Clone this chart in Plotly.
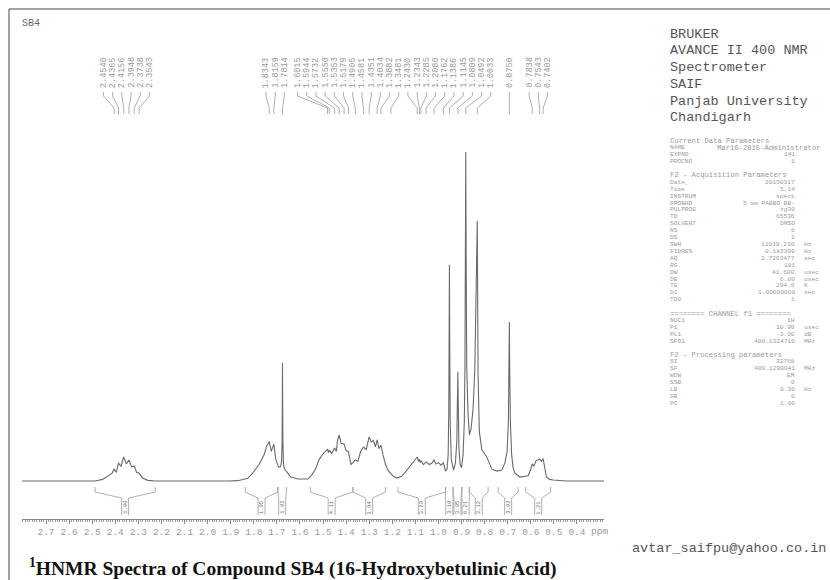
import plotly.graph_objects as go

W, H = 830, 580

# ---------------- spectrum (chemical shift / ppm, relative intensity) ----------------
spec_ppm = [2.822, 2.60, 2.53, 2.50, 2.475, 2.462, 2.454, 2.445, 2.4365, 2.427, 2.4156, 2.405,
            2.3948, 2.384, 2.3738, 2.364, 2.3543, 2.34, 2.32, 2.29, 2.00, 1.96, 1.92, 1.90,
            1.875, 1.855, 1.845, 1.8343, 1.826, 1.8159, 1.808, 1.797, 1.789, 1.785, 1.783,
            1.782, 1.7814, 1.7808, 1.7798, 1.7775, 1.772, 1.762, 1.75, 1.72, 1.68, 1.665,
            1.650, 1.635, 1.620, 1.6015, 1.598, 1.5944, 1.585, 1.5732, 1.566, 1.562, 1.5550,
            1.548, 1.5353, 1.527, 1.5179, 1.508, 1.4905, 1.480, 1.470, 1.4581, 1.447, 1.4351,
            1.427, 1.418, 1.410, 1.4034, 1.396, 1.3882, 1.380, 1.370, 1.360, 1.3481, 1.340,
            1.325, 1.305, 1.290, 1.270, 1.255, 1.2430, 1.238, 1.2343, 1.231, 1.2285, 1.218,
            1.2080, 1.195, 1.185, 1.1762, 1.168, 1.158, 1.148, 1.1386, 1.130, 1.124, 1.1195,
            1.1170, 1.1155, 1.1145, 1.1135, 1.1115, 1.107, 1.098, 1.0905, 1.0850, 1.0825,
            1.0809, 1.0793, 1.0765, 1.0715, 1.066, 1.060, 1.055, 1.0525, 1.0505, 1.0492,
            1.0478, 1.0455, 1.040, 1.0345, 1.028, 1.020, 1.013, 1.008, 1.0045, 1.0033, 1.0021,
            1.000, 0.995, 0.985, 0.966, 0.945, 0.925, 0.905, 0.893, 0.884, 0.879, 0.8765,
            0.8750, 0.8735, 0.871, 0.866, 0.860, 0.853, 0.833, 0.815, 0.800, 0.790, 0.7838,
            0.777, 0.768, 0.7543, 0.747, 0.7402, 0.734, 0.727, 0.715, 0.70, 0.65, 0.497]
spec_int = [0, 0, 0, 0.5, 1.6, 2.4, 3.6, 2.6, 5.5, 4.4, 7.3, 5.2,
            6.4, 4.3, 4.6, 2.6, 2.4, 0.9, 0.2, 0, 0, 0.1, 0.8, 2.5,
            5.0, 8.0, 10.5, 12.0, 9.0, 11.2, 6.5, 4.2, 4.4, 6.0, 12.0,
            24.0, 35.9, 24.0, 12.0, 5.0, 3.4, 2.6, 1.3, 0.6, 0.6, 1.8,
            3.5, 6.5, 8.2, 9.7, 8.6, 9.4, 8.4, 10.0, 9.0, 12.2, 14.0,
            11.5, 11.2, 9.2, 9.0, 5.0, 6.4, 6.0, 8.8, 10.3, 9.6, 13.4,
            11.8, 12.3, 10.4, 12.5, 9.8, 10.9, 8.0, 5.0, 3.3, 2.4, 1.5,
            0.9, 1.4, 2.8, 4.8, 6.0, 7.3, 6.0, 6.6, 5.6, 6.2, 5.0,
            5.8, 5.0, 5.4, 6.4, 5.2, 5.6, 4.8, 5.5, 3.0, 3.6, 8.0,
            22.0, 45.0, 65.7, 45.0, 18.0, 6.5, 3.3, 5.5, 12.0, 24.0,
            33.1, 24.0, 10.0, 5.0, 4.0, 8.0, 18.0, 35.0, 70.0, 100.0,
            70.0, 35.0, 20.0, 14.0, 16.0, 22.0, 34.0, 52.0, 72.0, 79.0, 62.0,
            32.0, 15.0, 9.5, 7.4, 3.6, 3.0, 3.3, 5.5, 9.0, 18.0, 33.0,
            48.3, 33.0, 18.0, 8.0, 4.0, 2.4, 1.2, 1.4, 1.6, 3.5, 5.2,
            4.6, 6.2, 6.7, 6.0, 6.8, 4.0, 1.2, 0.5, 0.3, 0, 0]

# ---------------- picked peaks ----------------
peak_ppm = [2.4540, 2.4365, 2.4156, 2.3948, 2.3738, 2.3543,
            1.8343, 1.8159, 1.7814, 1.6015, 1.5944, 1.5732, 1.5550, 1.5353, 1.5179,
            1.4905, 1.4581, 1.4351, 1.4034, 1.3882, 1.3481, 1.2430, 1.2343, 1.2285,
            1.2080, 1.1762, 1.1386, 1.1145, 1.0809, 1.0492, 1.0033,
            0.8750, 0.7838, 0.7543, 0.7402]

# ---------------- integral regions ----------------
int_from = [2.53, 1.93, 1.80, 1.67, 1.50, 1.32, 1.13, 1.10, 1.065, 1.035, 0.92, 0.81]
int_to = [2.29, 1.80, 1.765, 1.50, 1.37, 1.13, 1.10, 1.065, 1.035, 0.96, 0.84, 0.71]
int_vals = ["1.00", "1.05", "1.02", "4.11", "3.94", "3.20", "3.10", "3.05", "6.21", "3.12", "3.02", "1.21"]

# ---------------- ppm scale ----------------
scale_ticks = [2.7, 2.6, 2.5, 2.4, 2.3, 2.2, 2.1, 2.0, 1.9, 1.8, 1.7, 1.6,
               1.5, 1.4, 1.3, 1.2, 1.1, 1.0, 0.9, 0.8, 0.7, 0.6, 0.5, 0.4]
scale_text = ["2.7", "2.6", "2.5", "2.4", "2.3", "2.2", "2.1", "2.0", "1.9", "1.8", "1.7", "1.6",
              "1.5", "1.4", "1.3", "1.2", "1.1", "1.0", "0.9", "0.8", "0.7", "0.6", "0.5", "0.4"]

# ---------------- instrument / parameter block ----------------
header_lines = ["BRUKER", "AVANCE II 400 NMR", "Spectrometer", "SAIF",
                "Panjab University", "Chandigarh"]

param_rows = [
    ("Current Data Parameters",),
    ("NAME", "Mar16-2015-Administrator", ""),
    ("EXPNO", "141", ""),
    ("PROCNO", "1", ""),
    None,
    ("F2 - Acquisition Parameters",),
    ("Date_", "20150317", ""),
    ("Time", "5.14", ""),
    ("INSTRUM", "spect", ""),
    ("PROBHD", "5 mm PABBO BB-", ""),
    ("PULPROG", "zg30", ""),
    ("TD", "65536", ""),
    ("SOLVENT", "DMSO", ""),
    ("NS", "6", ""),
    ("DS", "2", ""),
    ("SWH", "12019.230", "Hz"),
    ("FIDRES", "0.183399", "Hz"),
    ("AQ", "2.7263477", "sec"),
    ("RG", "181", ""),
    ("DW", "41.600", "usec"),
    ("DE", "6.00", "usec"),
    ("TE", "294.6", "K"),
    ("D1", "1.00000000", "sec"),
    ("TD0", "1", ""),
    None,
    ("======== CHANNEL f1 ========",),
    ("NUC1", "1H", ""),
    ("P1", "10.90", "usec"),
    ("PL1", "-3.00", "dB"),
    ("SFO1", "400.1324710", "MHz"),
    None,
    ("F2 - Processing parameters",),
    ("SI", "32768", ""),
    ("SF", "400.1299941", "MHz"),
    ("WDW", "EM", ""),
    ("SSB", "0", ""),
    ("LB", "0.30", "Hz"),
    ("GB", "0", ""),
    ("PC", "1.00", ""),
]

# ---------------- geometry (pixels) ----------------
PLOT_L, PLOT_R = 22, 604
AXIS_Y, TOP_Y = 519, 130
BASE_Y, FULL_Y = 481, 152
SPEC_RANGE = [2.822, 0.497]
SCALE_RANGE = [2.804, 0.283]
px_per_ppm = (PLOT_R - PLOT_L) / (SPEC_RANGE[0] - SPEC_RANGE[1])
unit_px = (BASE_Y - FULL_Y) / 100.0


def fx(px):
    return px / W


def fy(py):
    return 1 - py / H


MONO = "Liberation Mono, Courier New, monospace"
GREY = "#6a6a6a"
LIGHT = "#9a9a9a"

fig = go.Figure()

# spectrum
fig.add_trace(go.Scatter(x=spec_ppm, y=spec_int, mode="lines",
                         line=dict(color=GREY, width=1.1), hoverinfo="skip",
                         showlegend=False, xaxis="x", yaxis="y"))

# trace that carries the printed ppm scale
fig.add_trace(go.Scatter(x=scale_ticks, y=[None] * len(scale_ticks), mode="lines",
                         hoverinfo="skip", showlegend=False, xaxis="x2", yaxis="y"))

# ---------- peak labels: spread labels of crowded peaks ----------
gap = 9.2 / px_per_ppm
clusters = [[i] for i in range(len(peak_ppm))]


def cluster_pos(c):
    m = sum(peak_ppm[i] for i in c) / len(c)
    return [m + ((len(c) - 1) / 2 - k) * gap for k in range(len(c))]


merged = True
while merged:
    merged = False
    for j in range(len(clusters) - 1):
        a, b = cluster_pos(clusters[j]), cluster_pos(clusters[j + 1])
        if a[-1] - b[0] < gap:
            clusters[j] = clusters[j] + clusters[j + 1]
            del clusters[j + 1]
            merged = True
            break

label_pos = []
for c in clusters:
    label_pos += cluster_pos(c)

LBL_BOTTOM, L1, L2, L3, LEAD_END = 90, 92, 96, 108, 114
lx, ly = [], []
for p, lp in zip(peak_ppm, label_pos):
    lx += [lp, lp, p, p, None]
    ly += [L1, L2, L3, LEAD_END, None]
    fig.add_annotation(x=lp, y=LBL_BOTTOM, xref="x", yref="y2", text=f"{p:.4f}",
                       textangle=-90, showarrow=False, xanchor="center", yanchor="bottom",
                       font=dict(family=MONO, size=8.5, color=LIGHT))

# ---------- integral marks ----------
tube = 3.5 / px_per_ppm
B0, B1, ARM, TUBE_END = 487, 492, 498, 515
for a, b, v in zip(int_from, int_to, int_vals):
    c = (a + b) / 2
    lx += [a, a, None, b, b, None]
    ly += [B0, B1, None, B0, B1, None]
    lx += [a, c + tube, c + tube, None, b, c - tube, c - tube, None]
    ly += [B1, ARM, TUBE_END, None, B1, ARM, TUBE_END, None]
    fig.add_annotation(x=c, y=(ARM + TUBE_END) / 2 + 1, xref="x", yref="y2", text=v,
                       textangle=-90, showarrow=False, xanchor="center", yanchor="middle",
                       font=dict(family=MONO, size=5.5, color=GREY))

fig.add_trace(go.Scatter(x=lx, y=ly, mode="lines", line=dict(color=LIGHT, width=0.8),
                         hoverinfo="skip", showlegend=False, xaxis="x", yaxis="y2"))

# ---------- text blocks ----------
fig.add_annotation(x=fx(20), y=fy(23), xref="paper", yref="paper", text="SB4",
                   showarrow=False, xanchor="left", yanchor="middle",
                   font=dict(family=MONO, size=10, color=GREY))

for k, t in enumerate(header_lines):
    fig.add_annotation(x=fx(668), y=fy(34 + 16.8 * k), xref="paper", yref="paper",
                       text=t, showarrow=False, xanchor="left", yanchor="middle",
                       font=dict(family=MONO, size=13.5, color="#555555"))

KEY_X, VAL_R, UNIT_X, NAME_X = 668, 797, 802, 715
ROW0, ROW_STEP = 141, 6.9
NB = "\u00a0"
small = dict(family=MONO, size=6.2, color=LIGHT)
for k, row in enumerate(param_rows):
    if row is None:
        continue
    yy = fy(ROW0 + ROW_STEP * k)
    if len(row) == 1:
        fig.add_annotation(x=fx(KEY_X), y=yy, xref="paper", yref="paper",
                           text=row[0].replace(" ", NB), showarrow=False, xanchor="left",
                           yanchor="middle", font=dict(family=MONO, size=7.2, color=LIGHT))
        continue
    key, val, unit = row
    fig.add_annotation(x=fx(KEY_X), y=yy, xref="paper", yref="paper", text=key,
                       showarrow=False, xanchor="left", yanchor="middle", font=small)
    if key == "NAME":
        fig.add_annotation(x=fx(NAME_X), y=yy, xref="paper", yref="paper", text=val,
                           showarrow=False, xanchor="left", yanchor="middle",
                           font=dict(family=MONO, size=7.2, color=LIGHT))
    else:
        fig.add_annotation(x=fx(VAL_R), y=yy, xref="paper", yref="paper",
                           text=val.replace(" ", NB), showarrow=False, xanchor="right",
                           yanchor="middle", font=small)
    if unit:
        fig.add_annotation(x=fx(UNIT_X), y=yy, xref="paper", yref="paper", text=unit,
                           showarrow=False, xanchor="left", yanchor="middle", font=small)

fig.add_annotation(x=fx(599), y=fy(531), xref="paper", yref="paper", text="ppm",
                   showarrow=False, xanchor="center", yanchor="middle",
                   font=dict(family=MONO, size=9.5, color=LIGHT))

fig.add_annotation(x=fx(828), y=fy(548), xref="paper", yref="paper",
                   text="avtar_saifpu@yahoo.co.in", showarrow=False, xanchor="right",
                   yanchor="middle", font=dict(family=MONO, size=13.5, color="#555555"))

fig.add_annotation(x=fx(27), y=fy(567), xref="paper", yref="paper",
                   text="<sup>1</sup>HNMR Spectra of Compound SB4 (16-Hydroxybetulinic Acid)",
                   showarrow=False, xanchor="left", yanchor="middle",
                   font=dict(family="Liberation Serif, serif", size=19.5, color="#111111",
                             weight="bold"))

# page frame
fig.add_shape(type="line", xref="paper", yref="paper", x0=fx(9), y0=fy(9), x1=1, y1=fy(9),
              line=dict(color="#444444", width=1))
fig.add_shape(type="line", xref="paper", yref="paper", x0=fx(9), y0=fy(9), x1=fx(9), y1=0,
              line=dict(color="#444444", width=1))

dom_x = [fx(PLOT_L), fx(PLOT_R)]
fig.update_layout(
    width=W, height=H, margin=dict(l=0, r=0, t=0, b=0),
    paper_bgcolor="white", plot_bgcolor="rgba(0,0,0,0)", showlegend=False,
    xaxis=dict(domain=dom_x, range=SPEC_RANGE, visible=False, anchor="y"),
    xaxis2=dict(domain=dom_x, range=SCALE_RANGE, overlaying="x", anchor="y", side="bottom",
                tickmode="array", tickvals=scale_ticks, ticktext=scale_text,
                ticks="outside", ticklen=4, tickwidth=1, tickcolor="#888888",
                showline=True, linecolor="#888888", linewidth=1, showgrid=False,
                zeroline=False,
                minor=dict(tickmode="linear", tick0=0, dtick=0.01, ticklen=2,
                           tickcolor="#999999", showgrid=False),
                tickfont=dict(family=MONO, size=9.5, color=LIGHT)),
    yaxis=dict(domain=[fy(AXIS_Y), fy(TOP_Y)],
               range=[-(AXIS_Y - BASE_Y) / unit_px, (BASE_Y - TOP_Y) / unit_px],
               visible=False, fixedrange=True),
    yaxis2=dict(domain=[0, 1], range=[H, 0], visible=False, anchor="x"),
)

fig.write_html("out.html")
